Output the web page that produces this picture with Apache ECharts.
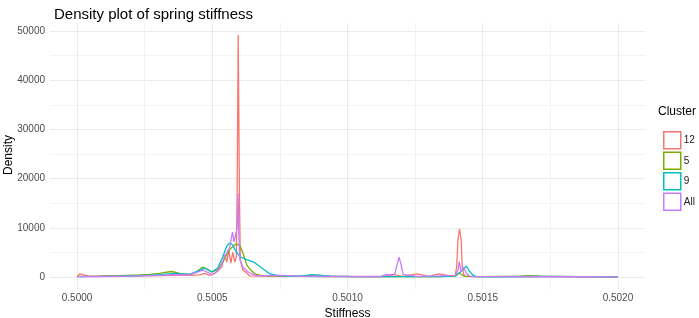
<!DOCTYPE html>
<html>
<head>
<meta charset="utf-8">
<script src="https://cdn.jsdelivr.net/npm/echarts@6/dist/echarts.min.js"></script>
<style>
    html, body { margin: 0; padding: 0; background: #fff; }
    #chart { width: 699px; height: 318px; }
</style>
</head>
<body>
<div id="chart"></div>
<script>
// cluster names and ggplot hue colours
var clusters = ["12", "5", "9", "All"];
var colors = ["#F8766D", "#7CAE00", "#00BFC4", "#C77CFF"];

// tick labels
var xTicks = [0.5000, 0.5005, 0.5010, 0.5015, 0.5020];
var xGrid = [0.5000, 0.50025, 0.5005, 0.50075, 0.5010, 0.50125, 0.5015, 0.50175, 0.5020];
var yTicks = [0, 10000, 20000, 30000, 40000, 50000];
var yGrid = [0, 5000, 10000, 15000, 20000, 25000, 30000, 35000, 40000, 45000, 50000];

// cluster 12
var stiff12 = [0.50000, 0.5000093, 0.5000463, 0.5000833, 0.5001574, 0.5002315, 0.5003056, 0.5003611, 0.5004167, 0.5004537,
    0.5004722, 0.5004907, 0.5005056, 0.5005204, 0.5005352, 0.5005463, 0.5005537, 0.5005611, 0.5005685, 0.5005759,
    0.5005833, 0.5005889, 0.5005919, 0.5005959, 0.5006004, 0.5006037, 0.5006130, 0.5006278, 0.5006389, 0.5006685,
    0.5007500, 0.5008241, 0.5008981, 0.5009352, 0.5010093, 0.5011204, 0.5011648, 0.5012056, 0.5012574, 0.5013000,
    0.5013389, 0.5013796, 0.5013981, 0.5014037, 0.5014085, 0.5014144, 0.5014204, 0.5014241, 0.5014315, 0.5014537,
    0.5015648, 0.5016759, 0.5017870, 0.5019352, 0.50200];
var dens12 = [0, 600, 100, 150, 150, 200, 250, 300, 300, 400,
    700, 300, 600, 1200, 2000, 4500, 3000, 5500, 2800, 5000,
    3000, 4000, 16600, 49200, 16600, 3500, 1400, 800, 200, 150,
    100, 150, 300, 100, 100, 50, 500, 100, 600, 100,
    600, 200, 300, 2000, 7500, 9800, 7500, 2000, 200, 50,
    50, 80, 50, 30, 0];

// cluster 5
var stiff5 = [0.50000, 0.5000833, 0.5001574, 0.5002315, 0.5002685, 0.5003056, 0.5003241, 0.5003500, 0.5003796, 0.5004167,
    0.5004352, 0.5004648, 0.5004833, 0.5004981, 0.5005204, 0.5005389, 0.5005611, 0.5005722, 0.5005870, 0.5006019,
    0.5006130, 0.5006278, 0.5006389, 0.5006574, 0.5006833, 0.5007500, 0.5008241, 0.5009352, 0.5010093, 0.5011204,
    0.5012315, 0.5013389, 0.5013981, 0.5014130, 0.5014315, 0.5014907, 0.5016389, 0.5016759, 0.5017130, 0.5018500,
    0.50200];
var dens5 = [100, 150, 250, 400, 500, 700, 900, 1100, 700, 500,
    800, 2000, 1500, 1000, 1500, 3000, 5300, 6000, 6700, 6400,
    4900, 2400, 1600, 600, 250, 150, 100, 80, 60, 50,
    50, 60, 150, 800, 150, 50, 150, 250, 150, 50,
    30];

// cluster 9
var stiff9 = [0.50000, 0.5000833, 0.5001574, 0.5002315, 0.5003056, 0.5003611, 0.5004167, 0.5004722, 0.5004981, 0.5005204,
    0.5005389, 0.5005537, 0.5005648, 0.5005759, 0.5005833, 0.5006019, 0.5006278, 0.5006574, 0.5006833, 0.5007130,
    0.5007500, 0.5008241, 0.5008685, 0.5009352, 0.5010093, 0.5011204, 0.5012315, 0.5013389, 0.5013981, 0.5014167,
    0.5014278, 0.5014389, 0.5014500, 0.5014648, 0.5014759, 0.5015648, 0.5017130, 0.5018500, 0.50200];
var dens9 = [50, 100, 150, 250, 450, 700, 500, 1800, 1000, 1800,
    4100, 6300, 6900, 6500, 5600, 4100, 3500, 2900, 1800, 600,
    200, 150, 450, 150, 80, 60, 50, 60, 200, 1000,
    1500, 2200, 1200, 300, 50, 30, 80, 40, 20];

// all clusters
var stiffAll = [0.50000, 0.5000833, 0.5001574, 0.5002315, 0.5003056, 0.5003611, 0.5004167, 0.5004648, 0.5004981, 0.5005204,
    0.5005352, 0.5005537, 0.5005648, 0.5005748, 0.5005807, 0.5005870, 0.5005919, 0.5005956, 0.5005981, 0.5006019,
    0.5006130, 0.5006278, 0.5006463, 0.5006685, 0.5007500, 0.5008241, 0.5009352, 0.5010093, 0.5011204, 0.5011463,
    0.5011648, 0.5011759, 0.5011833, 0.5011907, 0.5011981, 0.5012056, 0.5012574, 0.5013389, 0.5013981, 0.5014093,
    0.5014130, 0.5014204, 0.5014289, 0.5014389, 0.5014537, 0.5015648, 0.5016759, 0.5018500, 0.50200];
var densAll = [50, 80, 120, 200, 300, 450, 400, 1400, 500, 1200,
    2800, 4900, 6100, 9100, 7100, 7000, 10000, 17000, 9000, 3500,
    2000, 1200, 600, 200, 300, 100, 80, 60, 80, 500,
    200, 800, 2500, 4000, 2500, 500, 100, 200, 300, 1500,
    3100, 1000, 2000, 800, 100, 50, 60, 30, 20];

var stiffs = [stiff12, stiff5, stiff9, stiffAll];
var denss = [dens12, dens5, dens9, densAll];

function zip(xs, ys) {
    return xs.map(function (x, i) { return [x, ys[i]]; });
}

var font = "Liberation Sans";
var myChart = echarts.init(document.getElementById("chart"));

var series = clusters.map(function (name, i) {
    return {
        name: name,
        type: "line",
        data: zip(stiffs[i], denss[i]),
        symbol: "none",
        lineStyle: { color: colors[i], width: 1.3 },
        itemStyle: { color: colors[i] },
        animation: false
    };
});

var option = {
    animation: false,
    title: {
        text: "Density plot of spring stiffness",
        left: 49,
        top: 2,
        textStyle: { fontFamily: font, fontSize: 15, fontWeight: "normal", color: "#000" }
    },
    grid: { left: 50, right: 54, top: 23, bottom: 29, containLabel: false, outerBoundsMode: "none" },
    legend: {
        orient: "vertical",
        left: 658,
        top: 126,
        icon: "rect",
        itemWidth: 17,
        itemHeight: 17,
        itemGap: 2,
        textStyle: { fontFamily: font, fontSize: 10, color: "#1a1a1a", padding: [0, 0, 0, -2] },
        data: clusters.map(function (name, i) {
            return { name: name, itemStyle: { color: "#fff", borderColor: colors[i], borderWidth: 1.5 } };
        })
    },
    graphic: [{
        type: "text",
        left: 658,
        top: 106,
        style: { text: "Cluster", fontFamily: font, fontSize: 12, fill: "#000" }
    }, {
        // y axis title
        type: "text",
        x: 9,
        y: 155,
        rotation: Math.PI / 2,
        style: {
            text: "Density", fontFamily: font, fontSize: 12, fill: "#000",
            align: "center", verticalAlign: "middle"
        }
    }],
    xAxis: {
        type: "value",
        min: 0.4999,
        max: 0.5021,
        name: "Stiffness",
        nameLocation: "middle",
        nameGap: 16,
        nameTextStyle: { fontFamily: font, fontSize: 12, color: "#000", verticalAlign: "top" },
        axisLine: { show: false },
        axisTick: { show: false, customValues: xGrid },
        axisLabel: {
            customValues: xTicks,
            margin: 4,
            fontFamily: font,
            fontSize: 10,
            color: "#4D4D4D",
            formatter: function (v) { return v.toFixed(4); }
        },
        splitLine: { show: true, lineStyle: { color: ["#EBEBEB", "#F3F3F3"], width: 1 } }
    },
    yAxis: {
        type: "value",
        min: -2460,
        max: 51660,
        axisLine: { show: false },
        axisTick: { show: false, customValues: yGrid },
        axisLabel: {
            customValues: yTicks,
            margin: 5,
            fontFamily: font,
            fontSize: 10,
            color: "#4D4D4D",
            formatter: function (v) { return String(v); }
        },
        splitLine: { show: true, lineStyle: { color: ["#EBEBEB", "#F3F3F3"], width: 1 } }
    },
    series: series
};

myChart.setOption(option);
window.addEventListener("resize", myChart.resize);
</script>
</body>
</html>
